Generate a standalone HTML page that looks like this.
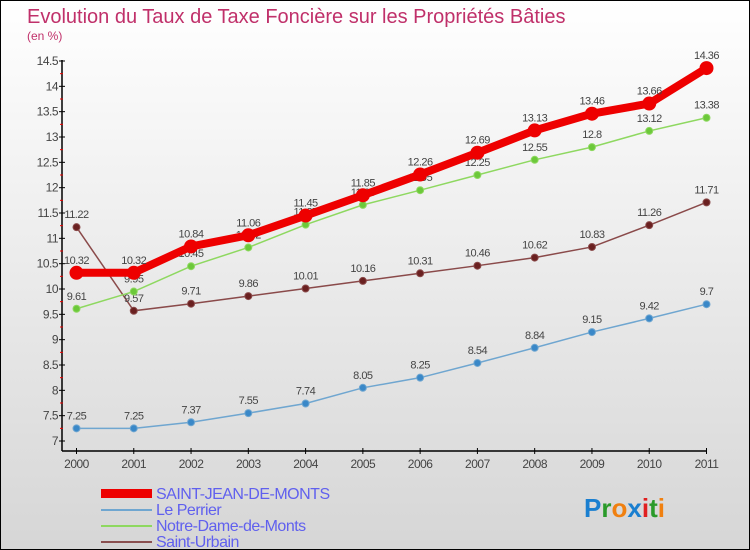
<!DOCTYPE html>
<html><head><meta charset="utf-8"><style>
body{margin:0}
#c{width:750px;height:550px;position:relative;box-sizing:border-box;border:1px solid #000;background:linear-gradient(#fff,#d6d6d6);font-family:"Liberation Sans",sans-serif;overflow:hidden}
</style></head><body>
<div id="c">
<svg id="s" width="750" height="550" style="position:absolute;left:0;top:0">
<text x="26" y="22" font-size="20" fill="#c0306a">Evolution du Taux de Taxe Foncière sur les Propriétés Bâties</text>
<text x="26" y="39" font-size="12" fill="#c0306a">(en %)</text>
<g id="axes"></g><g id="series"></g>
<g font-size="16" fill="#6060ee" letter-spacing="-0.5">
<rect x="100" y="488" width="51" height="9" fill="#e00"/>
<text x="155" y="498">SAINT-JEAN-DE-MONTS</text>
<rect x="100" y="508" width="51" height="2" fill="#6fa6d0"/>
<text x="155" y="514">Le Perrier</text>
<rect x="100" y="524" width="51" height="2" fill="#8ed860"/>
<text x="155" y="530">Notre-Dame-de-Monts</text>
<rect x="100" y="540" width="51" height="2" fill="#8a5050"/>
<text x="155" y="546">Saint-Urbain</text>
</g>
<g font-size="26" font-weight="bold"><text x="583" y="516"><tspan fill="#1a7fd0">P</tspan><tspan fill="#2a9a2a">r</tspan><tspan fill="#f08010">o</tspan><tspan fill="#1a7fd0">x</tspan><tspan fill="#e02020">i</tspan><tspan fill="#2a9a2a">t</tspan><tspan fill="#f08010">i</tspan></text></g>
</svg>
</div>
<script>
const years=[2000,2001,2002,2003,2004,2005,2006,2007,2008,2009,2010,2011];
const yTicks=[7,7.5,8,8.5,9,9.5,10,10.5,11,11.5,12,12.5,13,13.5,14,14.5];
const saintJean=[10.32,10.32,10.84,11.06,11.45,11.85,12.26,12.69,13.13,13.46,13.66,14.36];
const lePerrier=[7.25,7.25,7.37,7.55,7.74,8.05,8.25,8.54,8.84,9.15,9.42,9.7];
const notreDame=[9.61,9.95,10.45,10.82,11.27,11.66,11.95,12.25,12.55,12.8,13.12,13.38];
const saintUrbain=[11.22,9.57,9.71,9.86,10.01,10.16,10.31,10.46,10.62,10.83,11.26,11.71];
const NS="http://www.w3.org/2000/svg";
const X=i=>75.5+i*(705.5-75.5)/11;
const Y=v=>440-(v-7)*(380/7.5);
function mk(t,a,p){const e=document.createElementNS(NS,t);for(const k in a)e.setAttribute(k,a[k]);p.appendChild(e);return e;}
const ax=document.getElementById('axes');
const yaxis=mk('line',{x1:61,y1:59,x2:61,y2:450,stroke:'#000','stroke-width':1.5},ax);


const xaxis=mk('line',{x1:61,y1:450,x2:706,y2:450,stroke:'#000','stroke-width':1.5},ax);


yTicks.forEach((v,k)=>{
 mk('line',{x1:58,y1:Y(v),x2:64,y2:Y(v),stroke:'#000'},ax);
 if(k<yTicks.length-1) mk('line',{x1:59,y1:Y(v+0.25),x2:62,y2:Y(v+0.25),stroke:'#e00'},ax);
 const t=mk('text',{x:57,y:Y(v)+4,'text-anchor':'end','font-size':12,fill:'#444','letter-spacing':'-0.5'},ax);
 t.textContent=String(v);
 
 
});
years.forEach((y,i)=>{
 mk('line',{x1:X(i),y1:447,x2:X(i),y2:453,stroke:'#000'},ax);
 const t=mk('text',{x:X(i),y:467,'text-anchor':'middle','font-size':12,fill:'#444','letter-spacing':'-0.5'},ax);
 t.textContent=String(y);
 
 
});
const sg=document.getElementById('series');
function draw(vals,color,dot,lw,r,name){
 const g=mk('g',{},sg);
 
 
 const p=mk('polyline',{points:vals.map((v,i)=>X(i)+','+Y(v)).join(' '),fill:'none',stroke:color,'stroke-width':lw},g);
 
 
 vals.forEach((v,i)=>{
  const c=mk('circle',{cx:X(i),cy:Y(v),r:r,fill:dot,stroke:color,'stroke-width':1},g);
  
  
  const t=mk('text',{x:X(i),y:Y(v)-9,'text-anchor':'middle','font-size':11,fill:'#444','letter-spacing':'-0.5'},g);
  t.textContent=String(v);
  
  
 });
}
draw(lePerrier,'#6fa6d0','#3a88c8',1.5,3.5,'le-perrier');
draw(saintUrbain,'#8a4a4a','#6a2020',1.5,3.5,'saint-urbain');
draw(notreDame,'#8ed860','#6cc83a',1.5,3.5,'notre-dame');
draw(saintJean,'#e00','#e00',8,6.5,'saint-jean');
</script>
</body></html>
